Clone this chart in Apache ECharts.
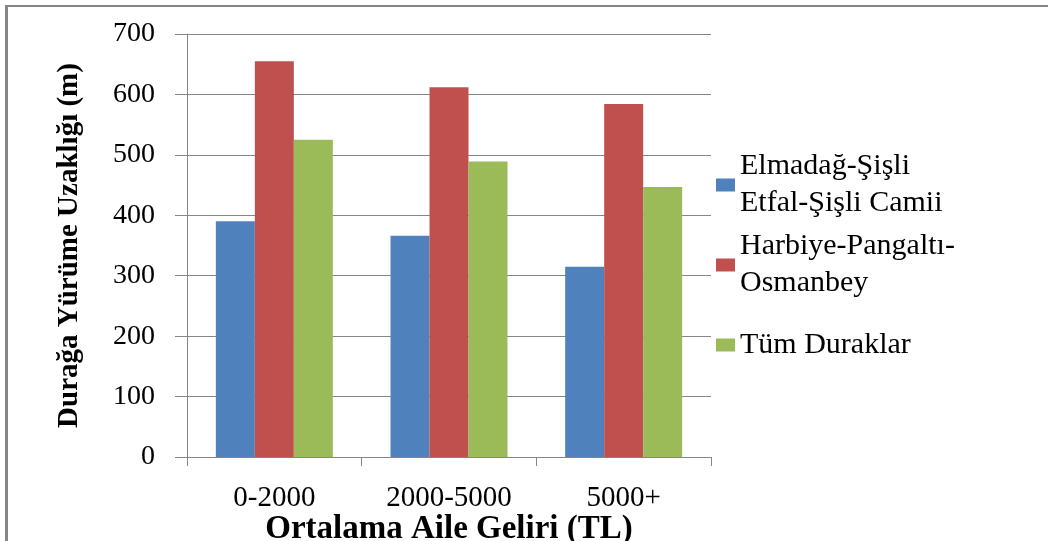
<!DOCTYPE html>
<html>
<head>
<meta charset="utf-8">
<script src="https://cdn.jsdelivr.net/npm/echarts@6/dist/echarts.min.js"></script>
<style>html,body{margin:0;padding:0;background:#fff;}#c{width:1048px;height:541px;}</style>
</head>
<body>
<div id="c"></div>
<script>
const categories = ['0-2000', '2000-5000', '5000+'];
const seriesNames = ['Elmadağ-Şişli\nEtfal-Şişli Camii', 'Harbiye-Pangaltı-\nOsmanbey', 'Tüm Duraklar'];
const elmadagSisli = [390, 366, 315];
const harbiyePangalti = [655, 612, 584];
const tumDuraklar = [525, 489, 447];
const yTicks = { min: 0, max: 700, interval: 100 };
const colors = ['#4F81BD', '#C0504D', '#9BBB59'];
const FONT = 'Liberation Serif';

const chart = echarts.init(document.getElementById('c'), null, { renderer: 'canvas' });
const legendText = { fontFamily: FONT, fontSize: 30, color: '#000', lineHeight: 37 };
const legendBase = { left: 716, orient: 'vertical', padding: 0, itemWidth: 19, itemHeight: 13, icon: 'rect', selectedMode: false };
chart.setOption({
  animation: false,
  backgroundColor: '#fff',
  graphic: [
    { type: 'rect', shape: { x: 5, y: 5, width: 1043, height: 2 }, style: { fill: '#868686' } },
    { type: 'rect', shape: { x: 5, y: 5, width: 3, height: 536 }, style: { fill: '#868686' } }
  ],
  legend: [
    Object.assign({ data: [seriesNames[0]], top: 129.5, textStyle: Object.assign({ padding: [37, 0, 0, 0] }, legendText) }, legendBase),
    Object.assign({ data: [seriesNames[1]], top: 209.5, textStyle: Object.assign({ padding: [37, 0, 0, 0] }, legendText) }, legendBase),
    Object.assign({ data: [seriesNames[2]], top: 326.5, textStyle: legendText }, legendBase)
  ],
  grid: { left: 187, top: 34, right: 337, bottom: 84, containLabel: false, outerBoundsMode: 'none' },
  xAxis: {
    type: 'category',
    data: categories,
    axisLine: { lineStyle: { color: '#868686', width: 1 } },
    axisTick: { show: true, length: 9, lineStyle: { color: '#868686' } },
    axisLabel: { fontFamily: FONT, fontSize: 29, color: '#000', margin: 27 },
    name: 'Ortalama Aile Geliri (TL)',
    nameLocation: 'middle',
    nameGap: 56,
    nameMoveOverlap: false,
    nameTextStyle: { fontFamily: FONT, fontSize: 33, fontWeight: 'bold', color: '#000' }
  },
  yAxis: {
    type: 'value',
    min: yTicks.min, max: yTicks.max, interval: yTicks.interval,
    axisLine: { show: true, lineStyle: { color: '#868686', width: 1 } },
    axisTick: { show: true, length: 12, lineStyle: { color: '#868686' } },
    splitLine: { show: true, lineStyle: { color: '#868686', width: 1 } },
    axisLabel: { fontFamily: FONT, fontSize: 28, color: '#000', margin: 32 },
    name: 'Durağa Yürüme Uzaklığı (m)',
    nameLocation: 'middle',
    nameGap: 103,
    nameMoveOverlap: false,
    nameTextStyle: { fontFamily: FONT, fontSize: 29, fontWeight: 'bold', color: '#000' }
  },
  series: [
    { name: seriesNames[0], type: 'bar', data: elmadagSisli, barWidth: 39, barGap: '0%', itemStyle: { color: colors[0] } },
    { name: seriesNames[1], type: 'bar', data: harbiyePangalti, barWidth: 39, barGap: '0%', itemStyle: { color: colors[1] } },
    { name: seriesNames[2], type: 'bar', data: tumDuraklar, barWidth: 39, barGap: '0%', itemStyle: { color: colors[2] } }
  ]
});
</script>
</body>
</html>
